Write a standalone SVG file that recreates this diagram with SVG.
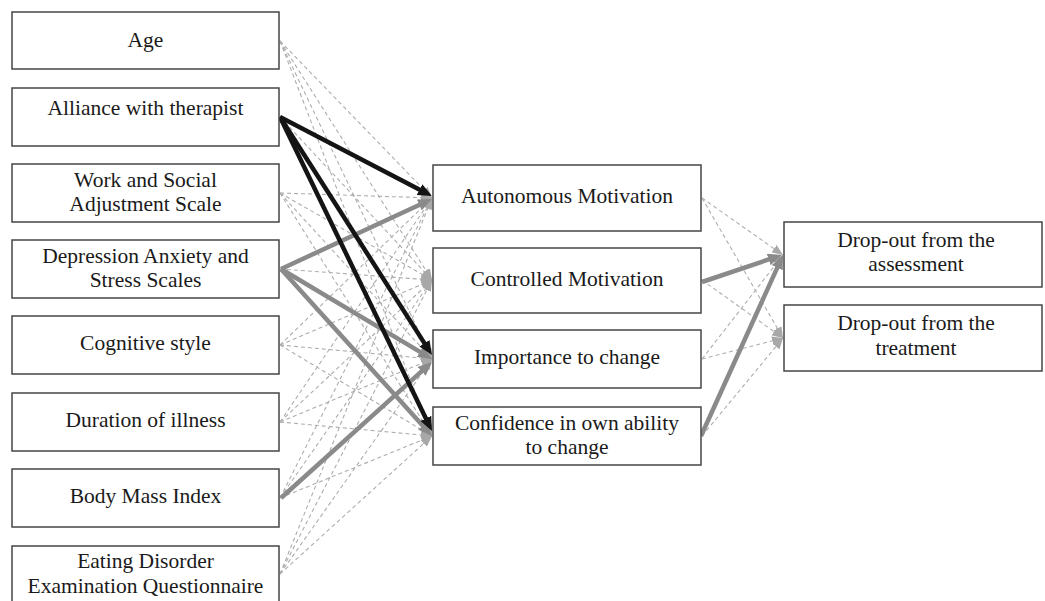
<svg xmlns="http://www.w3.org/2000/svg" width="1045" height="601" viewBox="0 0 1045 601">
<style>
.box{fill:#fff;stroke:#454545;stroke-width:1.5}
.t{font-family:"Liberation Serif","Times New Roman",serif;font-size:21.5px;fill:#1a1a1a;text-anchor:middle}
.d{stroke:#adadad;stroke-width:1.1;stroke-dasharray:4 3;fill:none;marker-end:url(#ad)}
.k{stroke:#141414;stroke-width:4.5;fill:none;marker-end:url(#ak)}
.g{stroke:#8a8a8a;stroke-width:4.5;fill:none;marker-end:url(#ag)}
</style>
<defs>
<marker id="ad" markerUnits="userSpaceOnUse" markerWidth="11" markerHeight="9" refX="11" refY="4.5" orient="auto"><path d="M0,0 L11,4.5 L0,9 z" fill="#a8a8a8"/></marker>
<marker id="ak" markerUnits="userSpaceOnUse" markerWidth="14" markerHeight="12" refX="4" refY="6" orient="auto"><path d="M0,0 L14,6 L0,12 z" fill="#141414"/></marker>
<marker id="ag" markerUnits="userSpaceOnUse" markerWidth="14" markerHeight="12" refX="4" refY="6" orient="auto"><path d="M0,0 L14,6 L0,12 z" fill="#8a8a8a"/></marker>
</defs>
<rect width="1045" height="601" fill="#fff"/>
<g id="connectors">
<line class="d" x1="280" y1="41" x2="432" y2="198"/>
<line class="d" x1="280" y1="41" x2="432" y2="280"/>
<line class="d" x1="280" y1="41" x2="432" y2="359"/>
<line class="d" x1="280" y1="41" x2="432" y2="436"/>
<line class="d" x1="280" y1="117" x2="432" y2="280"/>
<line class="d" x1="280" y1="193" x2="432" y2="198"/>
<line class="d" x1="280" y1="193" x2="432" y2="280"/>
<line class="d" x1="280" y1="193" x2="432" y2="359"/>
<line class="d" x1="280" y1="193" x2="432" y2="436"/>
<line class="d" x1="280" y1="269" x2="432" y2="280"/>
<line class="d" x1="280" y1="345" x2="432" y2="198"/>
<line class="d" x1="280" y1="345" x2="432" y2="280"/>
<line class="d" x1="280" y1="345" x2="432" y2="359"/>
<line class="d" x1="280" y1="345" x2="432" y2="436"/>
<line class="d" x1="280" y1="422" x2="432" y2="198"/>
<line class="d" x1="280" y1="422" x2="432" y2="280"/>
<line class="d" x1="280" y1="422" x2="432" y2="359"/>
<line class="d" x1="280" y1="422" x2="432" y2="436"/>
<line class="d" x1="280" y1="498" x2="432" y2="198"/>
<line class="d" x1="280" y1="498" x2="432" y2="280"/>
<line class="d" x1="280" y1="498" x2="432" y2="436"/>
<line class="d" x1="280" y1="574" x2="432" y2="198"/>
<line class="d" x1="280" y1="574" x2="432" y2="280"/>
<line class="d" x1="280" y1="574" x2="432" y2="359"/>
<line class="d" x1="280" y1="574" x2="432" y2="436"/>
<line class="d" x1="702" y1="198" x2="783" y2="255"/>
<line class="d" x1="702" y1="198" x2="783" y2="338"/>
<line class="d" x1="702" y1="280" x2="783" y2="338"/>
<line class="d" x1="702" y1="359" x2="783" y2="255"/>
<line class="d" x1="702" y1="359" x2="783" y2="338"/>
<line class="d" x1="702" y1="436" x2="783" y2="338"/>
<line class="g" x1="281" y1="269" x2="422.9" y2="203.2"/>
<line class="g" x1="281" y1="269" x2="423.4" y2="353.9"/>
<line class="g" x1="281" y1="269" x2="425.3" y2="428.6"/>
<line class="g" x1="281" y1="498" x2="424.6" y2="368.7"/>
<line class="k" x1="280" y1="117" x2="423.1" y2="191.4"/>
<line class="k" x1="280" y1="117" x2="426.6" y2="346.6"/>
<line class="k" x1="280" y1="117" x2="427.6" y2="422.0"/>
<line class="g" x1="702" y1="282" x2="772.5" y2="258.2"/>
<line class="g" x1="701" y1="436" x2="778.9" y2="264.1"/>
</g>
<g id="n-age"><rect class="box" x="12" y="12" width="267" height="57"/><text class="t" x="145.5" y="47">Age</text></g>
<g id="n-alliance"><rect class="box" x="12" y="88" width="267" height="58"/><text class="t" x="145.5" y="115">Alliance with therapist</text></g>
<g id="n-wsas"><rect class="box" x="12" y="164" width="267" height="58"/><text class="t" x="145.5" y="187">Work and Social</text><text class="t" x="145.5" y="211">Adjustment Scale</text></g>
<g id="n-dass"><rect class="box" x="12" y="240" width="267" height="58"/><text class="t" x="145.5" y="263">Depression Anxiety and</text><text class="t" x="145.5" y="287">Stress Scales</text></g>
<g id="n-cog"><rect class="box" x="12" y="316" width="267" height="58"/><text class="t" x="145.5" y="350">Cognitive style</text></g>
<g id="n-dur"><rect class="box" x="12" y="393" width="267" height="58"/><text class="t" x="145.5" y="427">Duration of illness</text></g>
<g id="n-bmi"><rect class="box" x="12" y="469" width="267" height="58"/><text class="t" x="145.5" y="503">Body Mass Index</text></g>
<g id="n-edeq"><rect class="box" x="12" y="546" width="267" height="60"/><text class="t" x="145.5" y="568">Eating Disorder</text><text class="t" x="145.5" y="593">Examination Questionnaire</text></g>
<g id="n-auto"><rect class="box" x="433" y="165" width="268" height="66"/><text class="t" x="567" y="203">Autonomous Motivation</text></g>
<g id="n-ctrl"><rect class="box" x="433" y="248" width="268" height="65"/><text class="t" x="567" y="286">Controlled Motivation</text></g>
<g id="n-imp"><rect class="box" x="433" y="330" width="268" height="58"/><text class="t" x="567" y="364">Importance to change</text></g>
<g id="n-conf"><rect class="box" x="433" y="407" width="268" height="58"/><text class="t" x="567" y="430">Confidence in own ability</text><text class="t" x="567" y="454">to change</text></g>
<g id="n-drop-assess"><rect class="box" x="784" y="222" width="258" height="65"/><text class="t" x="916" y="247">Drop-out from the</text><text class="t" x="916" y="271">assessment</text></g>
<g id="n-drop-treat"><rect class="box" x="784" y="305" width="258" height="66"/><text class="t" x="916" y="330">Drop-out from the</text><text class="t" x="916" y="355">treatment</text></g>
</svg>
